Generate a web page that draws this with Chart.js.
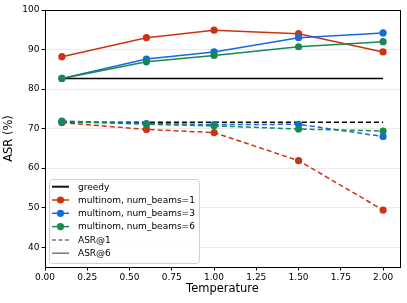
<!DOCTYPE html>
<html><head><meta charset="utf-8">
<script src="https://cdn.jsdelivr.net/npm/chart.js@4"></script>
<style>html,body{margin:0;padding:0;background:#fff}#wrap{width:407px;height:303px}</style>
</head><body><div id="wrap"><canvas id="c" width="407" height="303"></canvas></div>
<script>
const temps = [0.1, 0.6, 1.0, 1.5, 2.0];
const greedyX = [0.1, 2.0];
const greedyAt6 = [82.7, 82.7];
const greedyAt1 = [71.6, 71.6];
const beams1At6 = [88.2, 93.0, 94.9, 94.0, 89.4];
const beams3At6 = [82.7, 87.6, 89.4, 93.0, 94.2];
const beams6At6 = [82.7, 86.9, 88.5, 90.7, 92.0];
const beams1At1 = [71.5, 69.8, 69.0, 61.9, 49.4];
const beams3At1 = [71.9, 71.3, 71.0, 71.1, 68.0];
const beams6At1 = [71.8, 71.1, 70.7, 69.9, 69.4];
const xTicks = [0, 0.25, 0.5, 0.75, 1.0, 1.25, 1.5, 1.75, 2.0];
const yTicks = [40, 50, 60, 70, 80, 90, 100];
const legendLabels = ['greedy', 'multinom, num_beams=1', 'multinom, num_beams=3', 'multinom, num_beams=6', 'ASR@1', 'ASR@6'];

const RED = '#cc3311', BLUE = '#1469e0', GREEN = '#158a4e', BLACK = '#000000';
const pts = (xs, ys) => xs.map((x, i) => ({x, y: ys[i]}));
const DASH = [5, 3];
function ds(xs, ys, color, dashed, markers) {
  return {data: pts(xs, ys), borderColor: color, backgroundColor: color, borderWidth: 1.5,
    borderDash: dashed ? DASH : [], pointRadius: markers ? 3.6 : 0, pointBorderWidth: 0,
    pointHoverRadius: 0, tension: 0, fill: false};
}
const datasets = [
  ds(greedyX, greedyAt6, BLACK, false, false),
  ds(greedyX, greedyAt1, BLACK, true, false),
  ds(temps, beams1At6, RED, false, true),
  ds(temps, beams1At1, RED, true, true),
  ds(temps, beams3At6, BLUE, false, true),
  ds(temps, beams3At1, BLUE, true, true),
  ds(temps, beams6At6, GREEN, false, true),
  ds(temps, beams6At1, GREEN, true, true),
];
datasets.forEach((d, i) => d.order = datasets.length - i);

const FONT = 'DejaVu Sans';
const framePlugin = {
  id: 'frame',
  afterDatasetsDraw(chart) {
    const {ctx, chartArea: a} = chart;
    ctx.save();
    ctx.strokeStyle = '#000'; ctx.lineWidth = 1;
    ctx.strokeRect(Math.round(a.left) + 0.5, Math.round(a.top) + 0.5, Math.round(a.right - a.left), Math.round(a.bottom - a.top));
    ctx.restore();
    // legend
    const lx = 49, ly = 179, lw = 150, lh = 84;
    ctx.save();
    ctx.fillStyle = 'rgba(255,255,255,0.85)';
    ctx.strokeStyle = '#d0d0d0'; ctx.lineWidth = 1;
    const r = 3;
    ctx.beginPath();
    ctx.moveTo(lx + r + 0.5, ly + 0.5);
    ctx.arcTo(lx + lw + 0.5, ly + 0.5, lx + lw + 0.5, ly + lh + 0.5, r);
    ctx.arcTo(lx + lw + 0.5, ly + lh + 0.5, lx + 0.5, ly + lh + 0.5, r);
    ctx.arcTo(lx + 0.5, ly + lh + 0.5, lx + 0.5, ly + 0.5, r);
    ctx.arcTo(lx + 0.5, ly + 0.5, lx + lw + 0.5, ly + 0.5, r);
    ctx.closePath(); ctx.fill(); ctx.stroke();
    const styles = [
      {c: '#111', dash: [], m: false},
      {c: RED, dash: [], m: true},
      {c: BLUE, dash: [], m: true},
      {c: GREEN, dash: [], m: true},
      {c: '#777', dash: [4, 2.5], m: false},
      {c: '#777', dash: [], m: false},
    ];
    ctx.font = '9px "' + FONT + '"';
    ctx.textBaseline = 'middle';
    legendLabels.forEach((t, i) => {
      const y = 186.7 + i * 13.3;
      const s = styles[i];
      ctx.strokeStyle = s.c; ctx.lineWidth = i === 0 ? 2 : 1.5; ctx.setLineDash(s.dash);
      ctx.beginPath(); ctx.moveTo(52, y); ctx.lineTo(69, y); ctx.stroke();
      ctx.setLineDash([]);
      if (s.m) { ctx.fillStyle = s.c; ctx.beginPath(); ctx.arc(60.5, y, 3.6, 0, Math.PI * 2); ctx.fill(); }
      ctx.fillStyle = '#000';
      ctx.fillText(t, 78, y + 0.5);
    });
    ctx.restore();
  }
};

new Chart(document.getElementById('c'), {
  type: 'line',
  data: {datasets},
  options: {
    responsive: false, animation: false, devicePixelRatio: 1,
    layout: {padding: {top: 10, right: 7, left: 2, bottom: 7}},
    plugins: {legend: {display: false}, tooltip: {enabled: false}},
    scales: {
      x: {
        type: 'linear', min: 0, max: 2.1,
        afterBuildTicks: s => { s.ticks = xTicks.map(v => ({value: v})); },
        afterFit: s => { s.height = 29; },
        ticks: {callback: v => v.toFixed(2), color: '#000', font: {family: FONT, size: 9}, padding: 2, maxRotation: 0, autoSkip: false},
        grid: {drawOnChartArea: false, drawTicks: true, tickLength: 3.5, tickColor: '#000'},
        border: {display: true, color: '#000', width: 1},
        title: {display: true, text: 'Temperature', color: '#000', font: {family: FONT, size: 11.5}, padding: {top: 1, bottom: 0}}
      },
      y: {
        type: 'linear', min: 35, max: 100,
        afterBuildTicks: s => { s.ticks = yTicks.map(v => ({value: v})); },
        afterFit: s => { s.width = 43; },
        ticks: {callback: v => String(v), color: '#000', font: {family: FONT, size: 9}, padding: 2},
        grid: {color: '#ebebeb', lineWidth: 1, drawTicks: true, tickLength: 3.5, tickColor: '#000'},
        border: {display: true, color: '#000', width: 1},
        title: {display: true, text: 'ASR (%)', color: '#000', font: {family: FONT, size: 11.5}, padding: {top: 0, bottom: 2}}
      }
    }
  },
  plugins: [framePlugin]
});
</script></body></html>
